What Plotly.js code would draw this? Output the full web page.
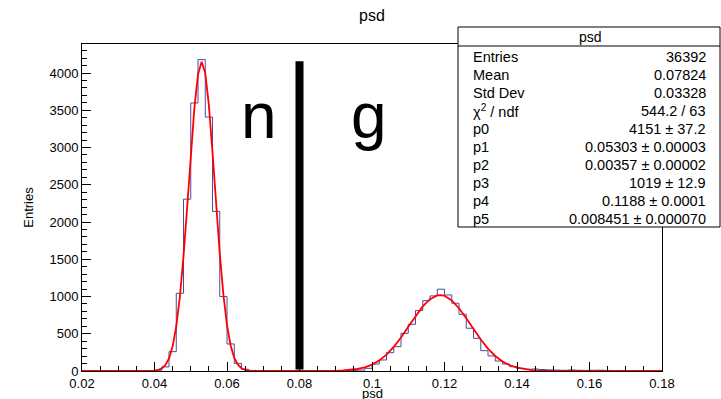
<!DOCTYPE html>
<html>
<head>
<meta charset="utf-8">
<script src="https://cdn.plot.ly/plotly-3.0.1.min.js"></script>
<style>html,body{margin:0;padding:0;background:#fff;}#chart{width:721px;height:399px;}</style>
</head>
<body>
<div id="chart"></div>
<script>
// ---- histogram data (bin width 0.002, 0.020 .. 0.180) ----
var binLow = 0.02;
var binWidth = 0.002;
var counts = [
  0,0,0,0,0,0,0,0,0,1,
  8,55,260,1044,2307,3598,4180,3409,2142,999,363,103,23,8,3,1,
  0,1,0,0,0,0,0,
  1,2,3,5,8,12,36,94,148,246,327,506,627,811,945,1008,1098,1021,910,762,574,439,273,202,134,94,58,36,23,27,
  20,15,12,10,14,10,8,10,11,8,6,7,5,5,7,4,3
];

// ---- fit curve ----
var fitX = [0.020,0.030,0.036,0.038,0.040,0.041,0.042,0.043,0.044,0.045,0.046,0.047,0.048,0.049,0.050,
            0.051,0.052,0.053,0.054,0.055,0.056,0.057,0.058,0.059,0.060,0.061,0.062,0.063,0.064,0.065,
            0.066,0.068,0.070,0.080,0.086,0.090,0.092,0.094,0.096,0.098,0.100,0.102,0.104,0.106,0.108,
            0.110,0.112,0.114,0.116,0.118,0.119,0.120,0.122,0.124,0.126,0.128,0.130,0.132,0.134,0.136,
            0.138,0.140,0.142,0.144,0.146,0.148,0.150,0.155,0.160,0.170,0.180];
var fitY = [0,0,0,0.6,5,14,35,80,169,331,597,997,1538,2195,2895,
            3531,3982,4151,4001,3565,2937,2237,1575,1026,617,343,177,84,37,15,
            6,0.5,0,0,0.5,3,6.7,13.7,26.8,49,86,141,220,324,450,
            593,737,867,965,1014,1019,1009,948,843,709,563,423,301,202,128,
            77,44,23.5,12,5.7,2.6,1.1,0.1,0,0,0];

// ---- cut line and region labels ----
var cutX = [0.08, 0.08];
var cutY = [20, 4160];
var regionLabels = ['n', 'g'];
var regionX = [0.0688, 0.0992];
var regionY = [3420, 3420];

// ---- stats box ----
var statsTitle = 'psd';
var statNames = ['Entries','Mean','Std Dev','\u03c7<sup>2</sup> / ndf','p0','p1','p2','p3','p4','p5'];
var statValues = ['36392','0.07824','0.03328','544.2 / 63','4151 \u00b1 37.2','0.05303 \u00b1 0.00003',
                  '0.00357 \u00b1 0.00002','1019 \u00b1 12.9','0.1188 \u00b1 0.0001','0.008451 \u00b1 0.000070'];

// step outline from bins
var stepX = [], stepY = [];
for (var i = 0; i < counts.length; i++) { stepX.push(binLow + i*binWidth); stepY.push(counts[i]); }
stepX.push(binLow + counts.length*binWidth); stepY.push(counts[counts.length-1]);

// pixel helpers for the plot frame
var L = 82, R = 662, T = 44, B = 371;
function px(xp){ return (xp - L)/(R - L); }
function py(yp){ return (B - yp)/(B - T); }

var FONT = 'Liberation Sans, Arial, Helvetica, sans-serif';

var traces = [
  {x: stepX, y: stepY, type:'scatter', mode:'lines', line:{shape:'hv', color:'#4a4aa0', width:1}, hoverinfo:'skip'},
  {x: fitX, y: fitY, type:'scatter', mode:'lines', line:{color:'#ff0000', width:1.8}, hoverinfo:'skip'},
  {x: cutX, y: cutY, type:'scatter', mode:'lines', line:{color:'#000000', width:8}, hoverinfo:'skip'}
];

var annotations = [];
for (var k = 0; k < regionLabels.length; k++) {
  annotations.push({x: regionX[k], y: regionY[k], xref:'x', yref:'y', text: regionLabels[k], showarrow:false,
    xanchor:'center', yanchor:'middle', font:{family:FONT, size:64, color:'#000'}});
}
// x-axis title placed like ROOT (just below the tick labels)
annotations.push({x: 0.5, y: py(393), xref:'paper', yref:'paper', text:'psd', showarrow:false,
  xanchor:'center', yanchor:'middle', font:{family:FONT, size:13, color:'#000'}});
annotations.push({x: px(590), y: py(37), xref:'paper', yref:'paper', text: statsTitle, showarrow:false,
  xanchor:'center', yanchor:'middle', font:{family:FONT, size:14, color:'#000'}});
var rowY = [57, 75, 93, 111, 129, 147, 165, 183, 201, 219];
for (var r = 0; r < statNames.length; r++) {
  annotations.push({x: px(471), y: py(rowY[r]), xref:'paper', yref:'paper', text: statNames[r], showarrow:false,
    xanchor:'left', yanchor:'middle', font:{family:FONT, size:14.5, color:'#000'}});
  annotations.push({x: px(708), y: py(rowY[r]), xref:'paper', yref:'paper', text: statValues[r], showarrow:false,
    xanchor:'right', yanchor:'middle', font:{family:FONT, size:14.5, color:'#000'}});
}

var shapes = [
  {type:'rect', xref:'paper', yref:'paper', x0: px(458), x1: px(720), y0: py(227), y1: py(27),
   line:{color:'#000', width:1}, fillcolor:'#fff', layer:'above'},
  {type:'line', xref:'paper', yref:'paper', x0: px(458), x1: px(720), y0: py(46), y1: py(46),
   line:{color:'#000', width:1}, layer:'above'}
];

var layout = {
  width: 721, height: 399,
  margin: {l: L, r: 721 - R, t: T, b: 399 - B, pad: 0},
  paper_bgcolor:'#fff', plot_bgcolor:'#fff',
  showlegend:false,
  font:{family:FONT, color:'#000'},
  title:{text:'psd', x:0.5, xref:'paper', xanchor:'center', y: 1 - 15/399, yref:'container', yanchor:'middle',
         font:{family:FONT, size:16, color:'#000'}},
  xaxis:{range:[0.02,0.18], tickmode:'linear', tick0:0.02, dtick:0.02, ticks:'inside', ticklen:9, tickwidth:1,
         tickcolor:'#000', showline:true, mirror:true, linecolor:'#000', linewidth:1, showgrid:false, zeroline:false,
         tickfont:{family:FONT, size:13, color:'#000'},
         minor:{tickmode:'linear', tick0:0.02, dtick:0.005, ticks:'inside', ticklen:5, tickcolor:'#000', showgrid:false}},
  yaxis:{range:[0,4390], tickmode:'linear', tick0:0, dtick:500, ticks:'inside', ticklen:9, tickwidth:1,
         tickcolor:'#000', showline:true, mirror:true, linecolor:'#000', linewidth:1, showgrid:false, zeroline:false,
         tickfont:{family:FONT, size:13, color:'#000'},
         minor:{tickmode:'linear', tick0:0, dtick:100, ticks:'inside', ticklen:5, tickcolor:'#000', showgrid:false},
         title:{text:'Entries', font:{family:FONT, size:13, color:'#000'}, standoff:12}},
  annotations: annotations,
  shapes: shapes
};

Plotly.newPlot('chart', traces, layout, {staticPlot:true, displayModeBar:false});
</script>
</body>
</html>
